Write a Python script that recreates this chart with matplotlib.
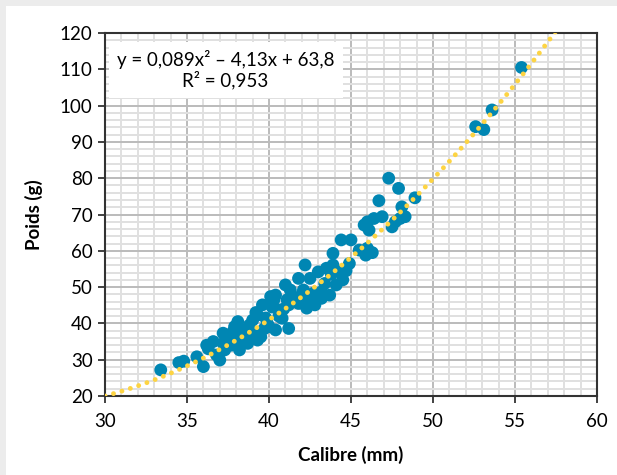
import numpy as np
import matplotlib
matplotlib.use("Agg")
import matplotlib.pyplot as plt
from matplotlib.patches import Rectangle
from matplotlib.ticker import MultipleLocator

plt.rcParams['font.family'] = ['Lato', 'DejaVu Sans']

# données : calibre (mm) / poids (g)
calibre = [33.4, 34.5, 34.8, 35.6, 36.0, 36.2, 36.3, 36.6, 36.8, 37.0,
           37.2, 37.2, 37.3, 37.5, 37.7, 37.8, 37.9, 38.1, 38.2, 38.2,
           38.4, 38.5, 38.6, 38.7, 38.8, 39.0, 39.1, 39.2, 39.3, 39.3,
           39.5, 39.6, 39.7, 39.8, 39.9, 40.0, 40.1, 40.2, 40.3, 40.4,
           40.4, 40.6, 40.6, 40.8, 40.9, 41.0, 41.1, 41.2, 41.2, 41.3,
           41.5, 41.8, 41.8, 42.0, 42.1, 42.2, 42.3, 42.5, 42.5, 42.7,
           42.8, 43.0, 43.2, 43.2, 43.4, 43.5, 43.7, 43.8, 43.9, 43.9,
           44.1, 44.3, 44.4, 44.5, 44.7, 44.9, 45.0, 45.5, 45.8, 45.9,
           46.0, 46.0, 46.1, 46.3, 46.4, 46.7, 46.9, 47.3, 47.5, 47.7,
           47.9, 48.0, 48.1, 48.3, 48.9, 52.6, 53.1, 53.6, 55.4]
poids = [27.2, 29.2, 29.6, 30.8, 28.1, 34.0, 33.0, 35.0, 31.3, 29.9,
         37.3, 34.5, 32.7, 36.0, 34.0, 37.7, 39.1, 40.5, 36.3, 32.7,
         34.8, 38.0, 37.7, 34.5, 39.5, 40.9, 36.8, 43.0, 42.3, 35.4,
         36.3, 45.1, 38.5, 41.5, 40.0, 39.1, 47.4, 44.5, 46.5, 47.8,
         38.2, 43.7, 42.0, 41.4, 44.0, 50.6, 46.5, 45.1, 38.6, 49.2,
         47.0, 52.4, 45.5, 48.0, 49.2, 56.1, 44.2, 52.4, 46.5, 48.3,
         45.1, 54.2, 48.7, 46.9, 51.0, 55.2, 47.8, 53.5, 59.3, 56.1,
         50.6, 54.2, 63.0, 52.0, 54.5, 56.5, 63.0, 60.2, 67.1, 58.8,
         60.7, 68.0, 65.7, 59.5, 68.9, 73.8, 69.4, 80.0, 66.6, 68.0,
         77.2, 68.9, 72.1, 69.4, 74.6, 94.2, 93.4, 98.8, 110.5]

# courbe de tendance polynomiale affichée sur le graphique
coef = [0.089, -4.13, 63.8]
equation = "y = 0,089x\u00b2 \u2013 4,13x + 63,8\nR\u00b2 = 0,953"

fig = plt.figure(figsize=(6.17, 4.75), dpi=100, facecolor='#ececec')
fig.add_artist(Rectangle((6 / 617, 0), 1, 1 - 6 / 475, transform=fig.transFigure,
                         facecolor='white', edgecolor='none', zorder=-10))
ax = fig.add_axes([105 / 617, 1 - 396 / 475, 492 / 617, 363 / 475])

ax.set_xlim(30, 60)
ax.set_ylim(20, 120)
ax.xaxis.set_major_locator(MultipleLocator(5))
ax.xaxis.set_minor_locator(MultipleLocator(1))
ax.yaxis.set_major_locator(MultipleLocator(10))
ax.yaxis.set_minor_locator(MultipleLocator(2))
ax.grid(which='minor', color='#e0e0e0', lw=1.4, zorder=0)
ax.grid(which='major', color='#bbbbbb', lw=1.4, zorder=0)
ax.set_axisbelow(True)

ax.scatter(calibre, poids, s=85, color='#0086b3', edgecolors='none', zorder=3)

xt = np.linspace(30, 60, 400)
ax.plot(xt, np.polyval(coef, xt), color='#fdd443', lw=3.5,
        linestyle=(0, (0.01, 1.8)), dash_capstyle='round', zorder=4)

ax.text(0.245, 0.952, equation, transform=ax.transAxes, ha='center', va='top',
        fontsize=13.5, linespacing=1.1, zorder=5,
        bbox=dict(facecolor='white', edgecolor='none', pad=6))

for s in ax.spines.values():
    s.set_color('#333333')
    s.set_linewidth(1.5)
ax.tick_params(which='major', direction='out', length=5, width=1.3, color='#333333',
               labelsize=13.5)
ax.tick_params(axis='x', pad=7)
ax.tick_params(axis='y', pad=4)
ax.tick_params(which='minor', length=0)

ax.set_xlabel("Calibre (mm)", fontsize=13.5, fontweight='bold', labelpad=12)
ax.set_ylabel("Poids (g)", fontsize=13.5, fontweight='bold', labelpad=12)

fig.savefig("out.png", dpi=100, facecolor=fig.get_facecolor())
